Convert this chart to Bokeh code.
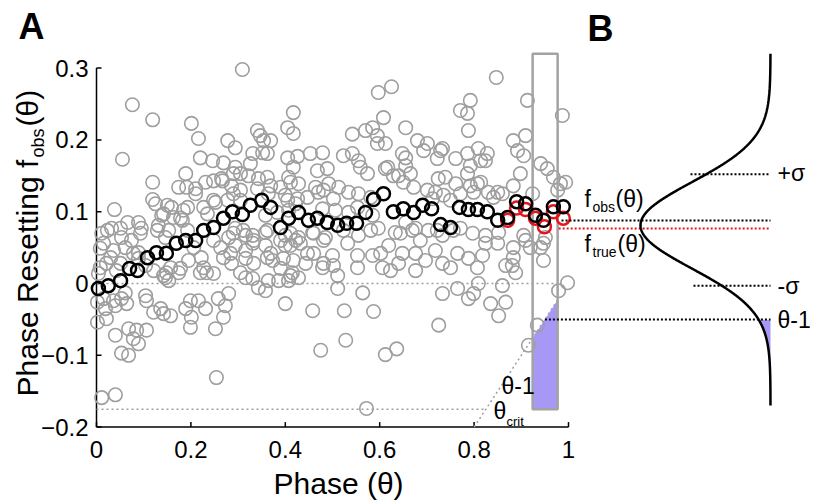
import numpy as np
from bokeh.plotting import figure
from bokeh.models import Label, Range1d
from bokeh.core.properties import value
from bokeh.embed import file_html
from bokeh.resources import INLINE

# ---------------- data (phase, phase resetting) ----------------
gray_outliers = [(.309,.298),(.076,.249),(.119,.228),(.201,.223),(.216,.202),(.055,.173),(.119,.141),(.119,.117),
    (.125,.111),(.038,.103),(.189,.153),(.220,.175),(.246,.171),(.278,.199),(.294,.189),(.341,.213),(.347,.206),
    (.354,.199),(.369,.199),(.405,.217),(.417,.238),(.417,.209),(.405,.175),(.426,.177)]
gray_left_a = [(.269,.168),(.174,.134),(.191,.134),(.210,.132),(.231,.141),(.248,.143),(.265,.146),(.294,.162),
    (.305,.153),(.286,.136),(.305,.130),(.159,.106),(.184,.102),(.227,.106),(.252,.113),(.138,.095),(.178,.091),
    (.011,.070),(.032,.077),(.051,.077),(.089,.085),(.095,.077),(.131,.081),(.153,.074),(.053,.064),(.074,.060),
    (.146,.064),(.294,.077),(.316,.067),(.280,.064)]
gray_left_b = [(.023,.074),(.015,.056),(.066,.085),(.093,.070),(.129,.074),(.142,.097),(.163,.092),(.182,.088),
    (.193,.074),(.150,.109),(.210,.125),(.267,.143),(.290,.153),(.322,.150),(.343,.146),(.369,.136),(.390,.134),
    (.407,.148),(.417,.162),(.405,.116),(.290,.125),(.305,.116),(.278,.116),(.248,.116),(.193,.106),(.235,.097),
    (.248,.060),(.290,.070),(.311,.074),(.333,.060),(.362,.074),(.390,.060),(.411,.070)]
gray_mid = [(.542,.208),(.570,.213),(.585,.217),(.595,.206),(.612,.195),(.595,.195),(.655,.217),(.352,.182),
    (.331,.181),(.362,.181),(.453,.181),(.479,.182),(.523,.178),(.542,.181),(.555,.171),(.559,.162),(.574,.153),
    (.612,.160),(.648,.181),(.655,.164),(.468,.157),(.489,.160),(.326,.167),(.362,.148),(.411,.141),(.428,.139),
    (.464,.134),(.492,.139),(.513,.134),(.534,.127),(.555,.125),(.629,.150),(.650,.141),(.341,.132),(.364,.125),
    (.400,.123),(.426,.118),(.447,.120),(.470,.127),(.502,.118),(.358,.095),(.383,.099),(.407,.102),(.479,.104),
    (.506,.102),(.534,.099),(.585,.095),(.331,.067),(.358,.071),(.400,.067),(.428,.064),(.458,.071),(.485,.064),
    (.555,.067),(.597,.077),(.633,.071),(.655,.085)]
gray_right_top = [(.597,.266),(.625,.274),(.847,.287),(.913,.255),(.987,.234),(.771,.241),(.792,.255),(.786,.237),
    (.788,.213),(.608,.231),(.680,.199),(.701,.195),(.693,.185),(.729,.185),(.883,.199),(.909,.206),(.892,.185),
    (.905,.178),(.761,.174),(.786,.181),(.809,.188),(.828,.181),(.824,.171),(.941,.167),(.955,.160),(.968,.148),
    (.983,.139),(.994,.141),(.977,.130),(.617,.162),(.898,.153),(.640,.150),(.665,.153)]
gray_right_mid = [(.655,.175),(.722,.174),(.733,.188),(.814,.171),(.792,.164),(.724,.146),(.739,.148),(.786,.153),
    (.761,.139),(.807,.139),(.718,.127),(.850,.127),(.883,.136),(.924,.125),(.712,.118),(.735,.123),(.830,.127),
    (.860,.125),(.676,.077),(.703,.074),(.733,.067),(.771,.077),(.797,.070),(.824,.067),(.852,.071),(.905,.067),
    (.951,.064),(.411,.053),(.460,.070),(.481,.060),(.523,.074),(.581,.074),(.644,.070),(.669,.074),(.686,.060),
    (.722,.074),(.756,.074),(.883,.050),(.909,.060),(.941,.050),(.799,.127),(.814,.141),(.841,.120),(.481,.130),
    (.422,.111),(.553,.106),(.581,.120),(.672,.134),(.701,.130),(.750,.116),(.771,.125),(.792,.136)]
gray_low_left = [(.008,.049),(.008,.022),(.004,.014),(.036,.046),(.061,.050),(.089,.043),(.021,.028),(.042,.018),
    (.089,.035),(.002,-.026),(.015,-.021),(.036,-.024),(.053,-.021),(.061,-.013),(.019,-.035),(.040,-.031),
    (.064,-.028),(.002,-.054),(.021,-.049),(.104,-.017),(.106,-.024),(.121,-.040),(.157,-.045),(.136,-.035),
    (.040,-.072),(.068,-.063),(.085,-.065),(.106,-.065),(.078,-.077),(.089,-.084),(.053,-.097),(.068,-.100),
    (.011,-.159),(.040,-.155),(.254,-.131),(.189,-.035),(.199,-.024),(.216,-.024),(.231,-.035),(.201,-.047),
    (.199,-.061),(.258,-.021),(.280,-.014),(.273,-.031),(.269,-.047),(.252,-.063),(.104,.025),(.146,.008),
    (.153,.004),(.148,.015),(.174,.015),(.195,.032),(.220,.015),(.233,.015),(.222,.036),(.206,.050),(.269,.036),
    (.286,.028),(.305,.015),(.316,.008),(.316,.046),(.294,.053),(.263,.050),(.030,.036),(.051,.028),(.078,.042),
    (.121,.018),(.142,.011),(.157,.022),(.178,.021),(.227,.022),(.248,.014),(.284,.042),(.333,.028),(.362,.036),
    (.390,.021),(.411,.011),(.417,.032),(.142,-.042),(.400,-.028)]
gray_low_mid = [(.331,.056),(.358,.053),(.316,.035),(.369,.042),(.373,.032),(.396,.035),(.400,.053),(.422,.060),
    (.432,.056),(.447,.042),(.443,.028),(.415,.015),(.428,.008),(.407,.004),(.386,.004),(.331,.007),(.343,-.006),
    (.358,-.010),(.364,.004),(.479,.022),(.500,.039),(.502,.025),(.511,.011),(.511,-.007),(.532,.056),(.553,.039),
    (.553,.022),(.585,.039),(.564,-.013),(.606,.022),(.623,.018),(.640,.028),(.648,.042),(.619,.053),(.458,-.038),
    (.525,-.038),(.587,-.039),(.528,-.079),(.475,-.093),(.612,-.099),(.636,-.091),(.572,-.174),(.460,.042),
    (.481,.028),(.602,.042)]
gray_low_right = [(.676,.042),(.676,.018),(.697,.032),(.718,.046),(.733,.028),(.750,.022),(.765,.042),(.788,.035),
    (.807,.022),(.818,.039),(.824,.056),(.850,.056),(.867,.025),(.881,.025),(.888,.015),(.883,.036),(.919,.050),
    (.947,.032),(.947,.056),(.733,-.014),(.765,-.007),(.788,-.021),(.799,-.014),(.809,.000),(.835,-.028),
    (.852,-.045),(.867,-.026),(.860,-.003),(.725,-.058),(.934,-.058),(.915,-.086),(.979,-.010),(.998,.001)]

mean_phase = [.004,.025,.051,.070,.087,.108,.127,.148,.169,.189,.210,.227,.248,.269,.288,.309,.326,.350,.369,.390,
    .407,.428,.449,.468,.489,.511,.530,.551,.570,.587,.608,.629,.650,.672,.691,.710,.729,.750,.769,.788,.807,.828,
    .850,.871,.890,.909,.930,.947,.968,.989]
mean_obs = [-.007,-.003,.004,.021,.018,.036,.043,.042,.056,.060,.060,.074,.078,.091,.100,.096,.109,.116,.106,.078,
    .091,.099,.088,.091,.085,.081,.084,.084,.099,.117,.125,.100,.104,.099,.109,.104,.082,.078,.106,.103,.103,.100,
    .088,.092,.114,.111,.095,.088,.107,.107]
true_phase = [.871,.890,.909,.930,.949,.968,.989]
true_vals = [.088,.105,.103,.091,.079,.100,.091]

x_ticks = [0, 0.2, 0.4, 0.6, 0.8, 1]
x_tick_labels = ["0", "0.2", "0.4", "0.6", "0.8", "1"]
y_ticks = [-0.2, -0.1, 0, 0.1, 0.2, 0.3]
y_tick_labels = ["\u22120.2", "\u22120.1", "0", "0.1", "0.2", "0.3"]

bin_lo, bin_hi, bin_center = 0.924, 0.977, 0.95
theta_crit = 0.8
floor_level = -0.175
box_top = 0.32
f_obs, f_true = 0.0877, 0.0766
sigma_plus, sigma_minus = 0.152, -0.003
gauss_mean, gauss_sd = 0.081, 0.060
curve_lo, curve_hi = -0.170, 0.320

# ---------------- layout constants (pixel geometry) ----------------
W, H = 815, 504
X0, XS = 96, 472      # canvas x of phase 0, px per phase unit
Y0, YS = 283, 718     # canvas y of value 0, px per value unit
BASE_SHIFT = 0.33     # renderer places the alphabetic baseline ~0.33 em low
def img(ix, iy):
    return (ix - X0) / XS, (Y0 - iy) / YS

b_base = img(770, 0)[0]
b_amp = 130 / XS
b_line_start = img(561, 0)[0]
sig_start_p = img(690, 0)[0]
sig_start_m = img(693, 0)[0]

FONT = "Liberation Sans"
GRAY = "#9E9E9E"
PURPLE = "#A898F5"
RED = "#E3161E"
TICK_FS = 24

p = figure(width=W, height=H, output_backend="svg", toolbar_location=None,
           x_axis_location=None, y_axis_location=None,
           x_range=Range1d(img(0, 0)[0], img(W, 0)[0]), y_range=Range1d(img(0, H)[1], img(0, 0)[1]),
           min_border=0)
p.outline_line_color = None
p.grid.visible = False
p.background_fill_color = "white"
p.border_fill_color = "white"

# axes (drawn from tick lists)
tick_dx, tick_dy = 5 / XS, 5 / YS
p.segment(x0=[x_ticks[0]], y0=[y_ticks[0]], x1=[x_ticks[-1]], y1=[y_ticks[0]], line_color="black", line_width=1.5)
p.segment(x0=[x_ticks[0]], y0=[y_ticks[0]], x1=[x_ticks[0]], y1=[y_ticks[-1]], line_color="black", line_width=1.5)
p.segment(x0=x_ticks, y0=[y_ticks[0]] * len(x_ticks), x1=x_ticks, y1=[y_ticks[0] + tick_dy] * len(x_ticks),
          line_color="black", line_width=1.5)
p.segment(x0=[x_ticks[0]] * len(y_ticks), y0=y_ticks, x1=[x_ticks[0] + tick_dx] * len(y_ticks), y1=y_ticks,
          line_color="black", line_width=1.5)
xl_gap = (30 - BASE_SHIFT * TICK_FS) / YS
yl_gap = (8 - BASE_SHIFT * TICK_FS) / YS
p.text(x=x_ticks, y=[y_ticks[0] - xl_gap] * len(x_ticks), text=x_tick_labels, text_font=value(FONT),
       text_font_size=f"{TICK_FS}px", text_align="center", text_baseline="alphabetic", text_color="black")
p.text(x=[x_ticks[0] - 8 / XS] * len(y_ticks), y=[t - yl_gap for t in y_ticks], text=y_tick_labels,
       text_font=value(FONT), text_font_size=f"{TICK_FS}px", text_align="right", text_baseline="alphabetic",
       text_color="black")

# gray reference lines
p.line([0, bin_hi], [0, 0], line_color=GRAY, line_width=1.5, line_dash="2 3")
p.line([0, floor_level + 1], [floor_level, floor_level], line_color=GRAY, line_width=1.5, line_dash="2 3")
p.line([theta_crit, bin_hi], [theta_crit - 1, bin_hi - 1], line_color=GRAY, line_width=1.5, line_dash="2 3")

# purple area in bin
p.patch([bin_lo, bin_lo, bin_hi, bin_hi], [floor_level, bin_lo - 1, bin_hi - 1, floor_level],
        fill_color=PURPLE, line_color=None)

gray_all = (gray_outliers + gray_left_a + gray_left_b + gray_mid + gray_right_top + gray_right_mid
            + gray_low_left + gray_low_mid + gray_low_right)
gx = [q[0] for q in gray_all]
gy = [q[1] for q in gray_all]
p.scatter(gx, gy, marker="circle", size=13.5, fill_color=None, line_color=GRAY, line_width=1.6)

p.quad(left=[bin_lo], right=[bin_hi], bottom=[floor_level], top=[box_top], fill_color=None,
       line_color="#A3A3A3", line_width=2.5)

p.scatter(true_phase, true_vals, marker="circle", size=13, fill_color=None, line_color=RED, line_width=2.5)
p.scatter(mean_phase, mean_obs, marker="circle", size=13, fill_color=None, line_color="black", line_width=2.5)

# panel B: Gaussian
gy_c = np.linspace(curve_lo, curve_hi, 400)
gx_c = b_base - b_amp * np.exp(-0.5 * ((gy_c - gauss_mean) / gauss_sd) ** 2)
mask = gy_c <= bin_center - 1
py_fill = np.concatenate([gy_c[mask], [gy_c[mask][-1], gy_c[mask][0]]])
px_fill = np.concatenate([gx_c[mask], [b_base, b_base]])
p.patch(px_fill, py_fill, fill_color=PURPLE, line_color=None)

p.line([b_line_start, b_base], [f_obs, f_obs], line_color="black", line_width=2, line_dash="2 2")
p.line([b_line_start - 0.006, b_base], [f_true, f_true], line_color=RED, line_width=2, line_dash="2 2")
p.line([bin_center, b_base], [bin_center - 1, bin_center - 1], line_color="black", line_width=2, line_dash="2 2")
p.line([sig_start_p, b_base], [sigma_plus, sigma_plus], line_color="black", line_width=2, line_dash="2 2")
p.line([sig_start_m, b_base], [sigma_minus, sigma_minus], line_color="black", line_width=2, line_dash="2 2")
p.line(gx_c, gy_c, line_color="black", line_width=2.5)

def add_label(ix, iy, text, size, bold=False, angle=0.0):
    # (ix, iy): canvas position of the text's left end on its baseline
    if angle == 0.0:
        iy = iy - BASE_SHIFT * size
    else:
        ix = ix - BASE_SHIFT * size
    x, y = img(ix, iy)
    p.add_layout(Label(x=x, y=y, text=text, text_font=FONT, text_font_size=f"{size}px",
                       text_font_style="bold" if bold else "normal", text_color="black",
                       text_align="left", text_baseline="alphabetic", angle=angle))

add_label(18, 38, "A", 36, bold=True)
add_label(587, 40, "B", 36, bold=True)
add_label(273, 493, "Phase (\u03b8)", 30)
add_label(37, 396, "Phase Resetting f", 30, angle=np.pi / 2)
add_label(43, 157, "obs", 18, angle=np.pi / 2)
add_label(37, 126, "(\u03b8)", 30, angle=np.pi / 2)

add_label(584, 206, "f", 23)
add_label(592, 211, "obs", 14)
add_label(615, 206, "(\u03b8)", 23)
add_label(584, 251, "f", 23)
add_label(592, 256, "true", 14)
add_label(617, 251, "(\u03b8)", 23)
add_label(777, 180, "+\u03c3", 23)
add_label(777, 293, "-\u03c3", 23)
add_label(777, 327, "\u03b8-1", 23)
add_label(501, 393, "\u03b8-1", 23)
add_label(493, 418, "\u03b8", 23)
add_label(506, 425, "crit", 13)

open("out.html", "w").write(file_html(p, INLINE))
